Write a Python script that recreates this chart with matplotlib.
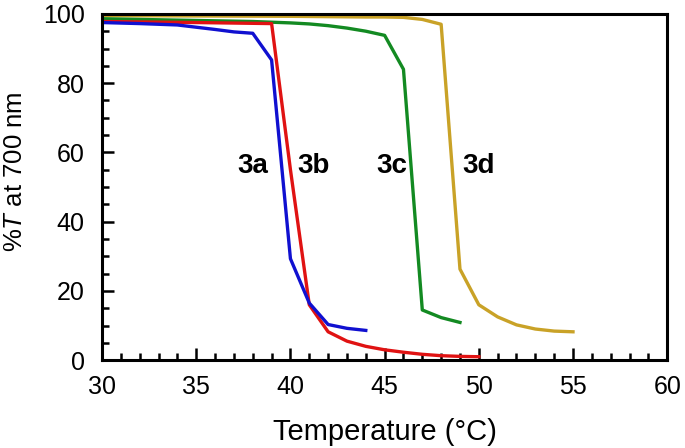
import matplotlib
matplotlib.use("Agg")
import matplotlib.pyplot as plt
from matplotlib.ticker import MultipleLocator

plt.rcParams['font.family'] = ['Liberation Sans', 'DejaVu Sans']
plt.rcParams['mathtext.fontset'] = 'custom'
plt.rcParams['mathtext.it'] = 'Liberation Sans:italic'
plt.rcParams['mathtext.rm'] = 'Liberation Sans'

# 3a (blue)
t_a = [30, 32, 34, 36, 37, 38, 39, 40, 41, 42, 43, 44]
y_a = [97.5, 97.2, 96.8, 95.5, 94.8, 94.4, 86.7, 29.3, 16.5, 10.3, 9.2, 8.6]
# 3b (red)
t_b = [30, 35, 39, 40, 41, 42, 43, 44, 45, 46, 47, 48, 49, 50]
y_b = [97.8, 97.5, 97.2, 55, 16.0, 8.2, 5.5, 4.0, 3.0, 2.3, 1.7, 1.3, 1.1, 1.0]
# 3c (green)
t_c = [30, 32, 34, 36, 38, 40, 41, 42, 43, 44, 45, 46, 47, 48, 49]
y_c = [98.6, 98.4, 98.2, 98.0, 97.8, 97.4, 97.1, 96.6, 95.9, 95.0, 93.8, 84.0, 14.5, 12.3, 10.9]
# 3d (gold)
t_d = [30, 35, 40, 44, 45, 46, 47, 48, 49, 50, 51, 52, 53, 54, 55]
y_d = [99.5, 99.4, 99.3, 99.1, 99.1, 99.0, 98.4, 97.0, 26.3, 16.0, 12.5, 10.2, 9.0, 8.4, 8.2]

labels = ['3a', '3b', '3c', '3d']
label_x = [38.0, 41.2, 45.4, 50.0]
label_y = [54, 54, 54, 54]

fig = plt.figure(figsize=(6.85, 4.48), dpi=100)
ax = fig.add_axes([0.149, 0.196, 0.825, 0.773])

lw = 2.4
ax.plot(t_d, y_d, color='#c9a227', linewidth=lw)
ax.plot(t_c, y_c, color='#138a22', linewidth=lw)
ax.plot(t_b, y_b, color='#e01212', linewidth=lw)
ax.plot(t_a, y_a, color='#1010d0', linewidth=lw)

for lab, x, y in zip(labels, label_x, label_y):
    ax.text(x, y, lab, fontsize=20, fontweight='bold', ha='center', va='baseline')

ax.set_xlim(30, 60)
ax.set_ylim(0, 100)
ax.xaxis.set_major_locator(MultipleLocator(5))
ax.xaxis.set_minor_locator(MultipleLocator(1))
ax.yaxis.set_major_locator(MultipleLocator(20))
ax.yaxis.set_minor_locator(MultipleLocator(5))
ax.tick_params(which='both', direction='in', width=1.8, labelsize=18)
ax.tick_params(which='major', length=8.5)
ax.tick_params(which='minor', length=5)
ax.tick_params(axis='x', which='major', pad=10.5)
ax.tick_params(axis='y', which='major', pad=12.5)
for s in ax.spines.values():
    s.set_linewidth(2.2)

ax.set_xlabel('Temperature (°C)', fontsize=21, labelpad=13.5)
ax.set_ylabel(r'%$\mathit{T}$ at 700 nm', fontsize=18.5)
ax.yaxis.set_label_coords(-0.133, 0.545)

fig.savefig('out.png', dpi=100)
